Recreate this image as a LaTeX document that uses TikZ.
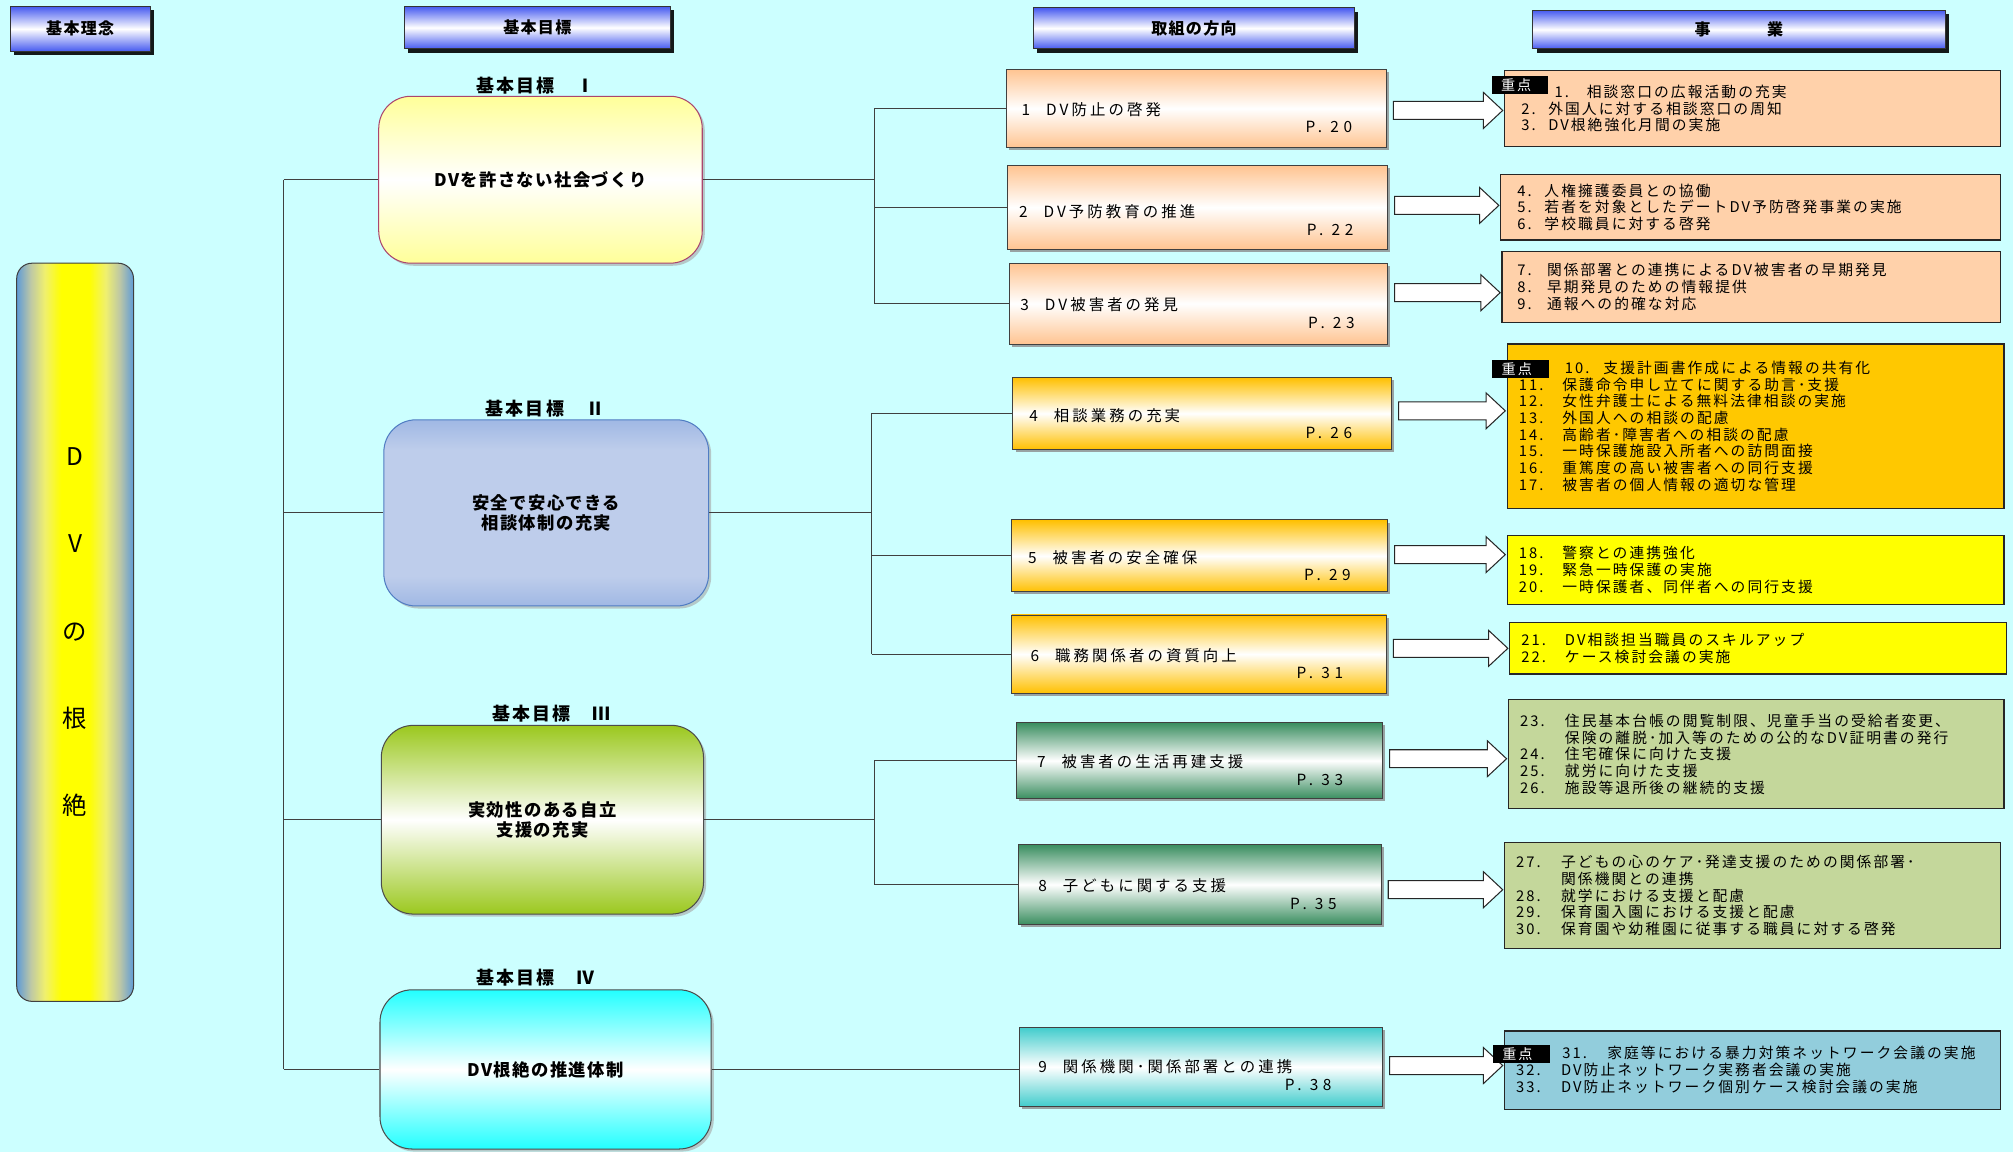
\documentclass[tikz,border=0pt]{standalone}
\usepackage{fontspec}
\setmainfont{Noto Sans CJK JP}
\newfontfamily\fbiz[LetterSpace=14]{Noto Sans CJK JP}
\newfontfamily\fdir[LetterSpace=20]{Noto Sans CJK JP}
\newfontfamily\fpage[LetterSpace=30]{Noto Sans CJK JP}
\newfontfamily\fgoal[LetterSpace=8]{Noto Sans CJK JP}
\newfontfamily\flab[LetterSpace=12]{Noto Sans CJK JP}
\newfontfamily\fhdr[LetterSpace=8]{Noto Sans CJK JP}
\usetikzlibrary{calc,shadows}
\definecolor{bgc}{RGB}{204,255,255}
\definecolor{hblue}{RGB}{70,90,240}
\definecolor{pblue}{RGB}{95,155,215}
\definecolor{pmix}{RGB}{190,200,165}
\definecolor{pyel}{RGB}{240,240,110}
\definecolor{gIy}{RGB}{255,255,153}
\definecolor{gIb}{RGB}{170,70,110}
\definecolor{gIIe}{RGB}{160,184,228}
\definecolor{gIIm}{RGB}{190,205,235}
\definecolor{gIIb}{RGB}{80,125,195}
\definecolor{gIIIg}{RGB}{155,200,30}
\definecolor{gIVc}{RGB}{34,255,255}
\definecolor{dpeach}{RGB}{255,196,145}
\definecolor{dgold}{RGB}{255,192,0}
\definecolor{dgreen}{RGB}{58,142,96}
\definecolor{dturq}{RGB}{64,204,204}
\definecolor{bpeach}{RGB}{255,209,170}
\definecolor{borange}{RGB}{255,200,0}
\definecolor{byellow}{RGB}{255,255,0}
\definecolor{bolive}{RGB}{196,215,155}
\definecolor{bblue}{RGB}{146,205,220}
\pgfdeclarehorizontalshading{pillarsh}{100bp}{color(0bp)=(pblue); color(25bp)=(pblue); color(31bp)=(pmix);
  color(37bp)=(pyel); color(44bp)=(yellow); color(56bp)=(yellow); color(63bp)=(pyel); color(69bp)=(pmix);
  color(75bp)=(pblue); color(100bp)=(pblue)}
\pgfdeclareverticalshading{gIIsh}{100bp}{color(0bp)=(gIIe); color(25bp)=(gIIe); color(33bp)=(gIIm);
  color(67bp)=(gIIm); color(75bp)=(gIIe); color(100bp)=(gIIe)}
\newcommand\blockarrow[3]{%
  \path[barrow] let \p1=(#1.east), \p2=(#2.west), \p3=(0,#3) in
    (\x1+5pt,\y3+7pt) -- (\x2-16pt,\y3+7pt) -- (\x2-16pt,\y3+14pt) -- (\x2-1pt,\y3)
    -- (\x2-16pt,\y3-14pt) -- (\x2-16pt,\y3-7pt) -- (\x1+5pt,\y3-7pt) -- cycle;}
\tikzset{
  conn/.style={draw=black!75, line width=0.8pt},
  hdr/.style={draw=black!80, line width=0.6pt, top color=hblue, bottom color=hblue, middle color=white,
    drop shadow={shadow xshift=3pt, shadow yshift=-3pt, fill=black, opacity=0.9}, inner sep=0pt,
    font=\fhdr\bfseries\fontsize{12.5}{15}\selectfont},
  goalbox/.style={rounded corners=25pt, inner sep=0pt, align=center, line width=0.8pt,
    font=\fgoal\bfseries\fontsize{13.5}{16}\selectfont,
    drop shadow={shadow xshift=2pt, shadow yshift=-2pt, fill=black!35, opacity=0.6}},
  goallabel/.style={font=\flab\bfseries\fontsize{14}{15}\selectfont, inner sep=0pt},
  dirbox/.style={draw=black!75, line width=0.7pt, inner sep=0pt,
    drop shadow={shadow xshift=2pt, shadow yshift=-2pt, fill=black!45, opacity=0.8}},
  dtext/.style={font=\fdir\fontsize{12}{13}\selectfont, inner sep=0pt},
  ptext/.style={font=\fpage\fontsize{12}{13}\selectfont, inner sep=0pt},
  bizbox/.style={draw=black!85, line width=1pt, inner xsep=9pt, inner ysep=0pt, align=left,
    font=\fbiz\fontsize{11.5}{13}\selectfont},
  juten/.style={fill=black, text=white, inner sep=0pt, minimum width=44pt, minimum height=14pt,
    font=\fbiz\fontsize{11}{12}\selectfont},
  barrow/.style={draw=black!85, fill=white, line width=0.8pt, line join=miter}
}
\newcommand\nm[2]{\makebox[#1pt][l]{#2}}
\begin{document}
\begin{tikzpicture}[x=1pt,y=-1pt]
\useasboundingbox (0,0) rectangle (1568,897);
\fill[bgc] (0,0) rectangle (1568,897);

% headers
\node[hdr, minimum width=109pt, minimum height=35pt] (h1) at (62.5,22.5) {基本理念};
\node[hdr, minimum width=207pt, minimum height=33pt] (h2) at (418.5,21.5) {基本目標};
\node[hdr, minimum width=250pt, minimum height=32pt] (h3) at (930,22) {取組の方向};
\node[hdr, minimum width=321pt, minimum height=30pt] (h4) at (1354.5,23) {事\hspace{44pt}業};

% pillar
\node[draw=black!75, line width=0.8pt, rounded corners=12pt, shading=pillarsh,
  minimum width=91pt, minimum height=575pt, inner sep=0pt, align=center, font=\fontsize{19}{68}\selectfont]
  (p) at (58.5,492.5) {D\\V\\の\\根\\絶};

% goals
\node[goalbox, draw=gIb, top color=gIy, bottom color=gIy, middle color=white, minimum width=252pt, minimum height=130pt]
  (g1) at (421,140) {DVを許さない社会づくり};
\node[goalbox, draw=gIIb, shading=gIIsh, minimum width=253pt, minimum height=145pt]
  (g2) at (425.5,399.5) {安全で安心できる\\相談体制の充実};
\node[goalbox, draw=black!70, top color=gIIIg, bottom color=gIIIg, middle color=white, minimum width=251pt, minimum height=147pt]
  (g3) at (422.5,638.5) {実効性のある自立\\支援の充実};
\node[goalbox, draw=black!70, top color=gIVc, bottom color=gIVc, middle color=white, minimum width=258pt, minimum height=124pt]
  (g4) at (425,833) {DV根絶の推進体制};
\node[goallabel] (g1l) at ($(g1.north)+(-4,-8)$) {基本目標　Ⅰ};
\node[goallabel] (g2l) at ($(g2.north)+(-1,-8)$) {基本目標　Ⅱ};
\node[goallabel] (g3l) at ($(g3.north)+(7,-9)$) {基本目標　Ⅲ};
\node[goallabel] (g4l) at ($(g4.north)+(-8,-9)$) {基本目標　Ⅳ};

% directions
\node[dirbox, top color=dpeach, bottom color=dpeach, middle color=white, minimum width=296pt, minimum height=61pt] (d1) at (932,84.5) {};
\node[dirbox, top color=dpeach, bottom color=dpeach, middle color=white, minimum width=296pt, minimum height=65pt] (d2) at (933,161.5) {};
\node[dirbox, top color=dpeach, bottom color=dpeach, middle color=white, minimum width=295pt, minimum height=63pt] (d3) at (933.5,236.5) {};
\node[dirbox, top color=dgold, bottom color=dgold, middle color=white, minimum width=295pt, minimum height=56pt] (d4) at (936.5,322) {};
\node[dirbox, top color=dgold, bottom color=dgold, middle color=white, minimum width=293pt, minimum height=56pt] (d5) at (934.5,433) {};
\node[dirbox, top color=dgold, bottom color=dgold, middle color=white, minimum width=292pt, minimum height=61pt] (d6) at (934,509.5) {};
\node[dirbox, top color=dgreen, bottom color=dgreen, middle color=white, minimum width=285pt, minimum height=59pt] (d7) at (934.5,592.5) {};
\node[dirbox, top color=dgreen, bottom color=dgreen, middle color=white, minimum width=283pt, minimum height=62pt] (d8) at (934.5,689) {};
\node[dirbox, top color=dturq, bottom color=dturq, middle color=white, minimum width=283pt, minimum height=62pt] (d9) at (935.5,831) {};

\node[dtext, anchor=west] (d1t) at ($(d1.west)+(12,1)$) {\nm{19}{1}DV防止の啓発};
\node[ptext, anchor=east] (d1p) at ($(d1.east)+(-27,14)$) {P. 20};
\node[dtext, anchor=west] (d2t) at ($(d2.west)+(9,3)$) {\nm{19}{2}DV予防教育の推進};
\node[ptext, anchor=east] (d2p) at ($(d2.east)+(-27,18)$) {P. 22};
\node[dtext, anchor=west] (d3t) at ($(d3.west)+(9,1)$) {\nm{19}{3}DV被害者の発見};
\node[ptext, anchor=east] (d3p) at ($(d3.east)+(-26,15)$) {P. 23};
\node[dtext, anchor=west] (d4t) at ($(d4.west)+(13,1.5)$) {\nm{19}{4}相談業務の充実};
\node[ptext, anchor=east] (d4p) at ($(d4.east)+(-31,15)$) {P. 26};
\node[dtext, anchor=west] (d5t) at ($(d5.west)+(13,1)$) {\nm{19}{5}被害者の安全確保};
\node[ptext, anchor=east] (d5p) at ($(d5.east)+(-29,15)$) {P. 29};
\node[dtext, anchor=west] (d6t) at ($(d6.west)+(15,1)$) {\nm{19}{6}職務関係者の資質向上};
\node[ptext, anchor=east] (d6p) at ($(d6.east)+(-34,15)$) {P. 31};
\node[dtext, anchor=west] (d7t) at ($(d7.west)+(16,1)$) {\nm{19}{7}被害者の生活再建支援};
\node[ptext, anchor=east] (d7p) at ($(d7.east)+(-31,15)$) {P. 33};
\node[dtext, anchor=west] (d8t) at ($(d8.west)+(16,1)$) {\nm{19}{8}子どもに関する支援};
\node[ptext, anchor=east] (d8p) at ($(d8.east)+(-35,15)$) {P. 35};
\node[dtext, anchor=west] (d9t) at ($(d9.west)+(15,0)$) {\nm{19}{9}関係機関･関係部署との連携};
\node[ptext, anchor=east] (d9p) at ($(d9.east)+(-40,14)$) {P. 38};

% business boxes
\node[bizbox, fill=bpeach, inner xsep=13pt, minimum width=386pt, text width=360pt, minimum height=59pt] (b1) at (1365,84.5)
  {\hspace*{26pt}\nm{25}{1.}相談窓口の広報活動の充実\\ \nm{21}{2.}外国人に対する相談窓口の周知\\ \nm{21}{3.}DV根絶強化月間の実施};
\node[bizbox, fill=bpeach, inner xsep=13pt, minimum width=389pt, text width=363pt, minimum height=51pt] (b2) at (1363.5,161.5)
  {\nm{21}{4.}人権擁護委員との協働\\ \nm{21}{5.}若者を対象としたデートDV予防啓発事業の実施\\ \nm{21}{6.}学校職員に対する啓発};
\node[bizbox, fill=bpeach, inner xsep=12pt, minimum width=388pt, text width=364pt, minimum height=55pt] (b3) at (1364,223.5)
  {\nm{23}{7.}関係部署との連携によるDV被害者の早期発見\\ \nm{23}{8.}早期発見のための情報提供\\ \nm{23}{9.}通報への的確な対応};
\node[bizbox, fill=borange, minimum width=387pt, text width=369pt, minimum height=128pt] (b4) at (1367.5,332)
  {\hspace*{36pt}\nm{30}{10.}支援計画書作成による情報の共有化\\
   \nm{34}{11.}保護命令申し立てに関する助言･支援\\
   \nm{34}{12.}女性弁護士による無料法律相談の実施\\
   \nm{34}{13.}外国人への相談の配慮\\
   \nm{34}{14.}高齢者･障害者への相談の配慮\\
   \nm{34}{15.}一時保護施設入所者への訪問面接\\
   \nm{34}{16.}重篤度の高い被害者への同行支援\\
   \nm{34}{17.}被害者の個人情報の適切な管理};
\node[bizbox, fill=byellow, minimum width=387pt, text width=369pt, minimum height=54pt] (b5) at (1367.5,444)
  {\nm{34}{18.}警察との連携強化\\ \nm{34}{19.}緊急一時保護の実施\\ \nm{34}{20.}一時保護者、同伴者への同行支援};
\node[bizbox, fill=byellow, minimum width=387pt, text width=369pt, minimum height=40pt] (b6) at (1369.5,505)
  {\nm{34}{21.}DV相談担当職員のスキルアップ\\ \nm{34}{22.}ケース検討会議の実施};
\node[bizbox, fill=bolive, minimum width=386pt, text width=368pt, minimum height=85pt] (b7) at (1368,587.5)
  {\nm{35}{23.}住民基本台帳の閲覧制限、児童手当の受給者変更、\\
   \nm{35}{}保険の離脱･加入等のための公的なDV証明書の発行\\
   \nm{35}{24.}住宅確保に向けた支援\\ \nm{35}{25.}就労に向けた支援\\ \nm{35}{26.}施設等退所後の継続的支援};
\node[bizbox, fill=bolive, minimum width=386pt, text width=368pt, minimum height=83pt] (b8) at (1365,697.5)
  {\nm{35}{27.}子どもの心のケア･発達支援のための関係部署･\\
   \nm{35}{}関係機関との連携\\
   \nm{35}{28.}就学における支援と配慮\\ \nm{35}{29.}保育園入園における支援と配慮\\ \nm{35}{30.}保育園や幼稚園に従事する職員に対する啓発};
\node[bizbox, fill=bblue, minimum width=386pt, text width=368pt, minimum height=61pt] (b9) at (1365,833.5)
  {\hspace*{36pt}\nm{35}{31.}家庭等における暴力対策ネットワーク会議の実施\\
   \nm{35}{32.}DV防止ネットワーク実務者会議の実施\\ \nm{35}{33.}DV防止ネットワーク個別ケース検討会議の実施};

% block arrows
\blockarrow{d1}{b1}{86}
\blockarrow{d2}{b2}{160}
\blockarrow{d3}{b3}{228}
\blockarrow{d4}{b4}{320}
\blockarrow{d5}{b5}{432}
\blockarrow{d6}{b6}{505}
\blockarrow{d7}{b7}{591}
\blockarrow{d8}{b8}{693}
\blockarrow{d9}{b9}{830}

% juten labels
\node[juten] (j1) at (1184,66) {\hspace*{-6pt}重点};
\node[juten] (j4) at (1184.5,287.5) {\hspace*{-6pt}重点};
\node[juten] (j9) at (1185,821) {\hspace*{-6pt}重点};

% connectors
\coordinate (tr) at (221,0);
\coordinate (v1) at (681,0);
\coordinate (v2) at (679,0);
\coordinate (v3) at (681,0);
\draw[conn] ($(p.east)+(0,19.5)$) -- ($(p.east)+(0,19.5)$ -| tr);
\draw[conn] (g1.west -| tr) -- (g4.west -| tr);
\foreach \g in {g1,g2,g3,g4} \draw[conn] (\g.west -| tr) -- (\g.west);
\draw[conn] (g1.east) -- (g1.east -| v1);
\draw[conn] (d1.west -| v1) -- (d3.west -| v1);
\foreach \d in {d1,d2,d3} \draw[conn] (\d.west -| v1) -- (\d.west);
\draw[conn] (g2.east) -- (g2.east -| v2);
\draw[conn] (d4.west -| v2) -- (d6.west -| v2);
\foreach \d in {d4,d5,d6} \draw[conn] (\d.west -| v2) -- (\d.west);
\draw[conn] (g3.east) -- (g3.east -| v3);
\draw[conn] (d7.west -| v3) -- (d8.west -| v3);
\foreach \d in {d7,d8} \draw[conn] (\d.west -| v3) -- (\d.west);
\draw[conn] (g4.east) -- (g4.east -| d9.west);
\end{tikzpicture}
\end{document}
